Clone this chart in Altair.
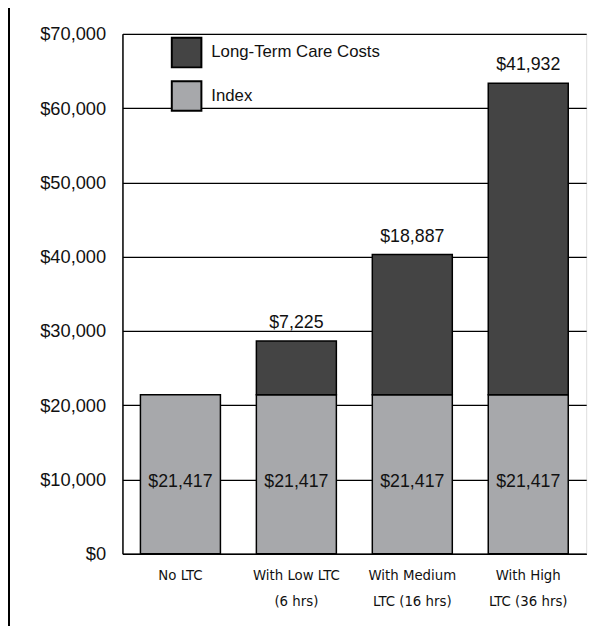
import altair as alt
import pandas as pd

categories = ["No LTC", "With Low LTC\n(6 hrs)", "With Medium\nLTC (16 hrs)", "With High\nLTC (36 hrs)"]
index_values = [21417, 21417, 21417, 21417]
ltc_values = [0, 7225, 18887, 41932]
series_names = ["Long-Term Care Costs", "Index"]
series_colors = ["#444444", "#a7a8ab"]
y_ticks = [0, 10000, 20000, 30000, 40000, 50000, 60000, 70000]

rows = []
for c, iv, lv in zip(categories, index_values, ltc_values):
    rows.append({"cat": c, "series": "Index", "value": iv, "ord": 0})
    if lv > 0:
        rows.append({"cat": c, "series": "Long-Term Care Costs", "value": lv, "ord": 1})
long_df = pd.DataFrame(rows)
wide_df = pd.DataFrame({"cat": categories, "index": index_values, "ltc": ltc_values})

FONT = "Liberation Sans"
NARROW = "'DejaVu Sans Condensed', 'Roboto Condensed', Roboto"

x_enc = alt.X(
    "cat:N",
    sort=categories,
    title=None,
    scale=alt.Scale(paddingInner=0.31, paddingOuter=0.155),
    axis=alt.Axis(
        labelExpr="split(datum.label, '\\n')",
        labelAngle=0,
        labelFont=NARROW,
        labelFontSize=15,
        labelColor="#111",
        labelLineHeight=26,
        labelPadding=14,
        ticks=False,
        domainColor="black",
        domainWidth=1.5,
        grid=False,
    ),
)

bars = alt.Chart(long_df).mark_bar(stroke="black", strokeWidth=1.5, opacity=1).encode(
    x=x_enc,
    y=alt.Y(
        "value:Q",
        stack="zero",
        title=None,
        scale=alt.Scale(domain=[0, 70000], nice=False),
        axis=alt.Axis(
            values=y_ticks,
            format="$,.0f",
            labelFont=FONT,
            labelFontSize=18.5,
            labelColor="#111",
            labelPadding=17,
            ticks=False,
            domainColor="black",
            domainWidth=1.5,
            grid=True,
            gridColor="black",
            gridWidth=1.3,
            gridOpacity=1,
        ),
    ),
    color=alt.Color(
        "series:N",
        scale=alt.Scale(domain=series_names, range=series_colors),
        legend=alt.Legend(
            title=None,
            orient="none",
            legendX=49,
            legendY=3,
            symbolType="square",
            symbolSize=900,
            symbolStrokeColor="black",
            symbolStrokeWidth=2,
            symbolOpacity=1,
            labelFont=FONT,
            labelFontSize=17,
            labelColor="#111",
            labelOffset=9,
            labelLimit=400,
            rowPadding=6,
            padding=0,
        ),
    ),
    order=alt.Order("ord:Q"),
)

top_labels = alt.Chart(wide_df).transform_filter("datum.ltc > 0").transform_calculate(
    total="datum.index + datum.ltc"
).mark_text(font=FONT, fontSize=18, color="#111", baseline="alphabetic", dy=-13).encode(
    x=alt.X("cat:N", sort=categories),
    y=alt.Y("total:Q"),
    text=alt.Text("ltc:Q", format="$,.0f"),
)

index_labels = alt.Chart(wide_df).transform_calculate(
    half="datum.index / 2"
).mark_text(font=FONT, fontSize=18, color="#111", baseline="middle", dy=8).encode(
    x=alt.X("cat:N", sort=categories),
    y=alt.Y("half:Q"),
    text=alt.Text("index:Q", format="$,.0f"),
)

frame_line = alt.Chart(wide_df).mark_rule(color="black", strokeWidth=2).encode(
    x=alt.value(-115),
    y=alt.value(-40),
    y2=alt.value(620),
)

chart = alt.layer(bars, top_labels, index_labels, frame_line).properties(
    width=470,
    height=527,
    autosize=alt.AutoSizeParams(type="none"),
    padding={"left": 116, "top": 22, "right": 16, "bottom": 69},
).configure_view(stroke="black", strokeWidth=1.5).configure(background="white")

chart.save("out.html", embed_options={"renderer": "svg", "actions": False})
